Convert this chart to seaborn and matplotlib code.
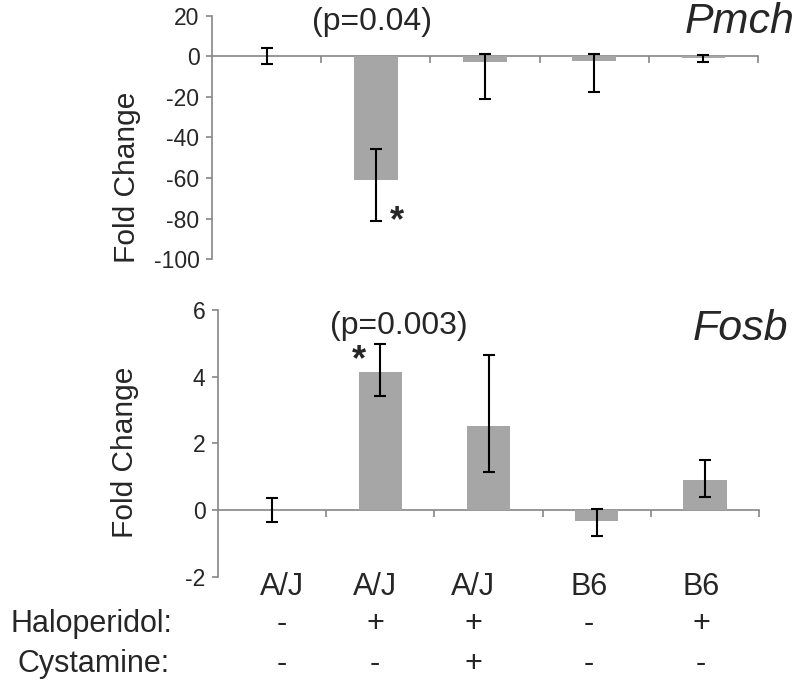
import matplotlib
matplotlib.use('Agg')
import matplotlib.pyplot as plt
import seaborn as sns
import pandas as pd

# data
groups = ['AJ_veh', 'AJ_hal', 'AJ_hal_cys', 'B6_veh', 'B6_hal']
strain_labels = ['A/J', 'A/J', 'A/J', 'B6', 'B6']
haloperidol = ['-', '+', '+', '-', '+']
cystamine = ['-', '-', '+', '-', '-']

pmch_mean = [0.2, -60.9, -2.9, -2.4, -0.8]
pmch_err_lo = [3.8, 20.0, 18.3, 15.2, 2.0]
pmch_err_hi = [3.9, 15.2, 3.8, 3.6, 1.6]

fosb_mean = [0.0, 4.14, 2.51, -0.32, 0.89]
fosb_err_lo = [0.37, 0.72, 1.36, 0.46, 0.49]
fosb_err_hi = [0.37, 0.83, 2.15, 0.34, 0.60]

sns.set_style('white')
plt.rcParams['font.family'] = ['Liberation Sans', 'DejaVu Sans']

W, H = 797, 683
fig = plt.figure(figsize=(W / 100, H / 100), dpi=100)


def fx(x):
    return x / W


def fy(y):
    return 1 - y / H


# axes placed in pixel terms (left, top, right, bottom)
ax_top = fig.add_axes([fx(212), fy(259.3), fx(758) - fx(212), fy(15.7) - fy(259.3)])
ax_bot = fig.add_axes([fx(218), fy(576.7), fx(759) - fx(218), fy(310) - fy(576.7)])

bar_color = '#a6a6a6'
axis_color = '#868686'


def draw_panel(ax, mean, lo, hi, ylim, yticks):
    df = pd.DataFrame({'group': groups, 'value': mean})
    sns.barplot(data=df, x='group', y='value', order=groups, color=bar_color,
                width=0.4, errorbar=None, saturation=1, linewidth=0, ax=ax, zorder=2)
    ax.errorbar(range(len(groups)), mean, yerr=[lo, hi], fmt='none',
                ecolor='black', elinewidth=1.5, capsize=4, capthick=1.5, zorder=3)
    ax.set_xlim(-0.5, len(groups) - 0.5)
    ax.set_ylim(*ylim)
    ax.set_yticks(yticks)
    ax.set_yticklabels([str(t) for t in yticks])
    ax.set_xticks([i + 0.5 for i in range(len(groups))])
    ax.set_xticklabels([])
    ax.set_xlabel('')
    ax.set_ylabel('')
    for s in ['top', 'right']:
        ax.spines[s].set_visible(False)
    ax.spines['bottom'].set_position(('data', 0))
    for s in ['left', 'bottom']:
        ax.spines[s].set_color(axis_color)
        ax.spines[s].set_linewidth(1.2)
        ax.spines[s].set_zorder(1)
    ax.tick_params(axis='y', direction='out', length=4, width=1.2, color=axis_color,
                   labelsize=16.5, pad=5, left=True)
    ax.tick_params(axis='x', direction='out', length=5, width=1.2, color=axis_color,
                   bottom=True)
    ax.set_facecolor('white')


draw_panel(ax_top, pmch_mean, pmch_err_lo, pmch_err_hi, (-100, 20), [20, 0, -20, -40, -60, -80, -100])
draw_panel(ax_bot, fosb_mean, fosb_err_lo, fosb_err_hi, (-2, 6), [6, 4, 2, 0, -2])

# annotations
fig.text(fx(372), fy(22), '(p=0.04)', fontsize=23, ha='center', va='center')
fig.text(fx(397), fy(222), '*', fontsize=26, ha='center', va='center', fontweight='bold')
fig.text(fx(740), fy(22), 'Pmch', fontsize=31, style='italic', ha='center', va='center')

fig.text(fx(399), fy(326), '(p=0.003)', fontsize=23, ha='center', va='center')
fig.text(fx(359), fy(361), '*', fontsize=26, ha='center', va='center', fontweight='bold')
fig.text(fx(740), fy(329), 'Fosb', fontsize=31, style='italic', ha='center', va='center')

fig.text(fx(127), fy(177), 'Fold Change', fontsize=21.5, rotation=90, ha='center', va='center')
fig.text(fx(125), fy(452), 'Fold Change', fontsize=21.5, rotation=90, ha='center', va='center')

# treatment table below the lower panel
col_x = [282, 375, 473, 589, 701]
for x, s, h, c in zip(col_x, strain_labels, haloperidol, cystamine):
    fig.text(fx(x), fy(587), s, fontsize=22, ha='center', va='center')
    fig.text(fx(x), fy(624), h, fontsize=22, ha='center', va='center')
    fig.text(fx(x), fy(664), c, fontsize=22, ha='center', va='center')
fig.text(fx(172), fy(624), 'Haloperidol:', fontsize=22, ha='right', va='center')
fig.text(fx(170), fy(664), 'Cystamine:', fontsize=22, ha='right', va='center')

fig.savefig('out.png', dpi=100)
